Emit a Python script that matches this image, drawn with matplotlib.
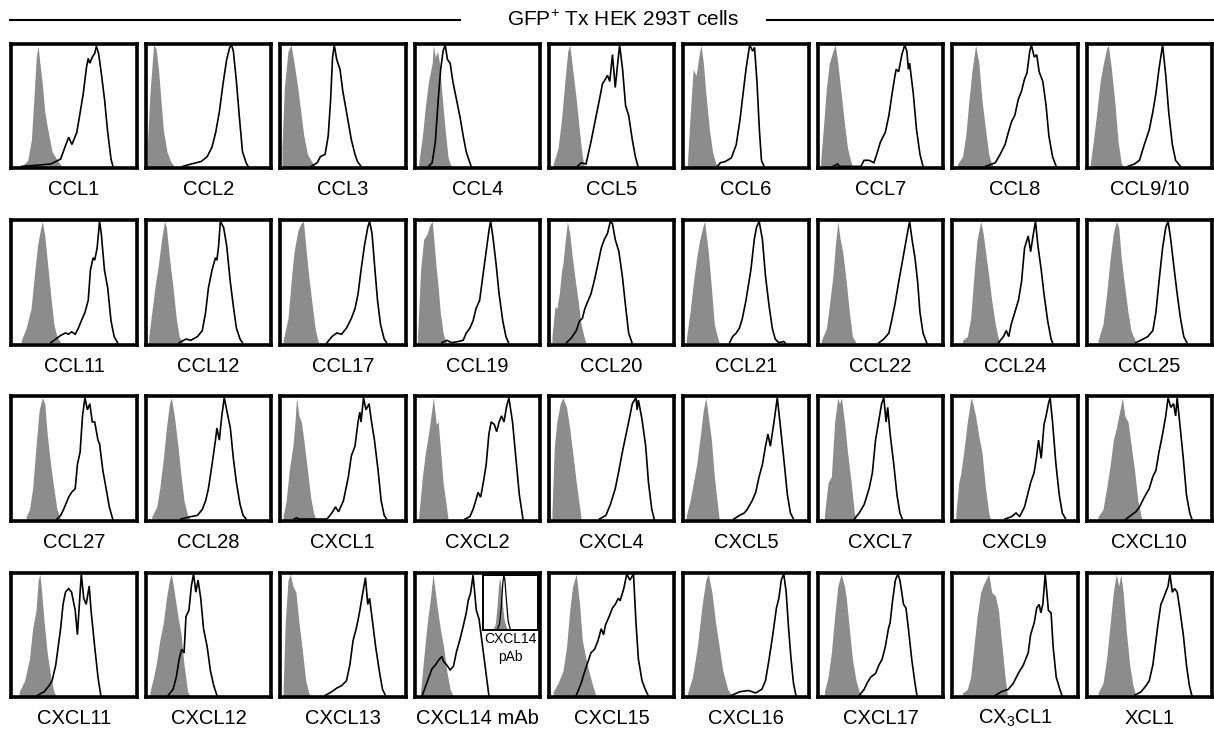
import matplotlib
matplotlib.use("Agg")
import matplotlib.pyplot as plt
from matplotlib.lines import Line2D

plt.rcParams['font.family'] = ['Liberation Sans', 'DejaVu Sans']
plt.rcParams['mathtext.fontset'] = 'custom'
plt.rcParams['mathtext.rm'] = 'Liberation Sans'
plt.rcParams['mathtext.it'] = 'Liberation Sans:italic'

# x = fluorescence (% of axis), y = % of max
row1_labels = ["CCL1", "CCL2", "CCL3", "CCL4", "CCL5", "CCL6", "CCL7", "CCL8", "CCL9/10"]
row1_iso = [
    [(7,0),(12,5),(15,22),(17,55),(19,90),(20.5,99),(22,85),(24,68),(26,45),(28,33),(32,12),(37,4),(40,0)],
    [(0,20),(2,60),(5,100),(7,97),(9,80),(11,55),(13,30),(16,12),(19,4),(22,0)],
    [(0,15),(2,65),(5,95),(7.5,100),(10,85),(13,65),(15.5,45),(18,25),(21,10),(25,3),(27.6,0)],
    [(2,3),(5,25),(7.5,50),(10,70),(13,85),(14,100),(15.6,90),(17.5,95),(19,85),(21,60),(23.7,30),(26,8),(27.8,2),(29,0)],
    [(2,2),(6,15),(9,40),(11.6,70),(14,95),(15.6,100),(18,80),(21,55),(23.7,28),(26,8),(27.5,0)],
    [(2,5),(4,40),(6.6,80),(9,75),(12,95),(13,100),(15,85),(17,60),(20,30),(22.5,12),(25,3),(26.5,0)],
    [(1,5),(3,30),(5.7,65),(8,85),(11,95),(13,100),(15,85),(17.8,60),(20.5,35),(23,15),(26,3),(27,0)],
    [(3,2),(7,8),(9.7,25),(12.4,55),(15,80),(17.8,100),(20.5,85),(23,55),(26,30),(28.6,10),(31,2),(32.6,0)],
    [(1.6,2),(4,20),(7,45),(9.7,70),(12.4,85),(15,97),(16.4,100),(19,80),(22,50),(24.5,20),(27,3),(28.6,0)],
]
row1_stain = [
    [(7,0),(20,1),(31,2),(39,6),(43,17),(45.6,24),(48.3,18),(52.3,28),(55,44),(57.6,60),(60.3,82),(61.7,89),(63,85),(65,90),(67,93),(68.4,99),(70.2,93),(72.4,77),(75.1,55),(77.7,28),(80.4,6),(82,0)],
    [(29,0),(36,2),(44,4),(49,8),(53,16),(56,28),(59,45),(62,68),(65,88),(67.5,98),(69,100),(70.5,95),(73,70),(75.5,40),(78,12),(81,3),(82.6,0)],
    [(24,0),(29,3),(31.6,8),(35.5,10),(38,25),(40,55),(41.6,90),(43,100),(45,88),(47.7,80),(50,62),(53,45),(57,22),(60,10),(62,4),(65,0)],
    [(10,0),(13,3),(15.6,20),(18,55),(20,80),(22,95),(23.7,100),(25.6,88),(27.8,85),(30,70),(33,55),(36,40),(38.5,25),(41,12),(44,3),(45,0)],
    [(22,0),(25,3),(29,2),(33,20),(37,40),(40,55),(42.5,68),(45,72),(46.6,75),(48.5,70),(50.7,92),(53,65),(55,85),(56.6,100),(59,80),(61.5,50),(64,42),(67,22),(69.5,8),(71.7,0)],
    [(26.5,0),(29,3),(33,4),(38,7),(42,18),(45,38),(47.6,60),(50,80),(53,100),(55.5,95),(57,98),(59,70),(61,30),(62.7,5),(64.8,0)],
    [(11,0),(15,2),(16,0),(34,0),(36.6,5),(40.7,5),(44.7,3),(47,10),(50,20),(54,28),(57,42),(59.6,60),(62,75),(63,80),(65,78),(67.6,92),(70,100),(71.7,95),(73,80),(74,85),(77,60),(79.7,30),(82.5,10),(85,0)],
    [(26,0),(34,3),(38,10),(42,18),(44.7,28),(47.4,37),(50,42),(52.8,55),(55.5,62),(58,72),(60,77),(62.3,95),(63.6,100),(66,90),(68,92),(70,78),(73,70),(75.7,50),(78,25),(81,8),(84,0)],
    [(32.6,0),(38,2),(42,5),(46,18),(50,30),(53,45),(55.5,60),(58,80),(61,100),(63.6,75),(66,45),(69,18),(71.7,5),(75.7,0)],
]

row2_labels = ["CCL11", "CCL12", "CCL17", "CCL19", "CCL20", "CCL21", "CCL22", "CCL24", "CCL25"]
row2_iso = [
    [(6.7,2),(10.7,12),(14.7,28),(17.4,55),(20,80),(22.8,95),(24,100),(26,88),(28,68),(30.8,40),(33.5,15),(36,5),(39,0)],
    [(1,5),(3.5,25),(6,45),(9,65),(11.5,85),(14,100),(15.5,95),(18,70),(21,45),(23.6,20),(26,5),(29,0)],
    [(1,2),(5,20),(7.5,50),(10,75),(13,92),(15.5,98),(17.7,100),(19.5,80),(22,55),(25,30),(27.6,10),(30,0)],
    [(1,5),(3.5,60),(6,85),(9,90),(11,97),(13,100),(14,90),(16,65),(18,45),(19.7,25),(22,8),(23.7,2),(25,0)],
    [(1,5),(3.5,30),(5,28),(7,40),(9,60),(10,65),(12,85),(13.7,100),(15.6,90),(17.8,70),(19.7,55),(22.4,35),(25,15),(27.8,3),(29,0)],
    [(1,3),(4,25),(6.8,50),(9.5,70),(12,85),(15,97),(16,100),(19,75),(21.6,45),(24,15),(27,3),(28,0)],
    [(1.6,2),(5.7,12),(8,30),(11,55),(13,80),(15,100),(17,85),(19,75),(22,50),(24.5,25),(27,5),(30,0)],
    [(7,2),(11,5),(13.7,20),(16.4,55),(19,85),(22,100),(24,90),(26,75),(28.6,55),(31,35),(34,15),(36.6,3),(38,0)],
    [(8,2),(12,15),(15,40),(18,70),(20.5,90),(23,100),(25,95),(27,70),(30,45),(32.6,25),(35,10),(38,3),(39,0)],
]
row2_stain = [
    [(31,0),(35,3),(39,6),(43,8),(45.6,7),(48,9),(51,7),(53.6,12),(56,18),(59,25),(61.7,35),(63.5,60),(65.7,70),(67,68),(69,78),(71,100),(72.4,90),(75,60),(77.7,45),(80.4,18),(83,5),(85.8,0)],
    [(26,0),(31.6,3),(35.6,2),(41,5),(45,10),(47.7,25),(50,45),(53,60),(55.8,70),(57,68),(58.4,80),(59.8,100),(62.5,95),(65,80),(68,50),(70.5,30),(73,12),(76,3),(78,0)],
    [(37,0),(41,5),(45,8),(49,7),(53,12),(57,20),(60,28),(62.5,40),(65,60),(67.8,80),(70.5,95),(72,100),(74,90),(76,65),(78.5,35),(81,15),(84,3),(86,0)],
    [(21,0),(25,2),(29,0),(34.5,1),(38.5,2),(41,8),(44,12),(46.6,18),(49,28),(52,35),(54,50),(56,65),(58,80),(59.6,92),(61,100),(62.8,88),(65.5,65),(68,40),(71,18),(73.6,5),(75.7,0)],
    [(13,0),(17,4),(21,10),(23.7,18),(26,20),(28,28),(30,33),(33,40),(36,52),(38.8,65),(41.5,78),(44,85),(46.6,90),(49,100),(50.7,98),(53,85),(56,75),(58.8,55),(61.5,30),(64,8),(66.7,0)],
    [(36.5,0),(39,5),(42,8),(44.6,12),(47,20),(50,35),(52.7,52),(54,60),(56.8,85),(58.6,95),(60.8,100),(63.5,85),(66,55),(69,30),(71.6,12),(74,3),(77,0),(81,1),(82,0)],
    [(48.8,0),(52.8,3),(57,8),(59.6,20),(62,32),(65,50),(67.7,65),(70,78),(72.5,92),(74,100),(76,85),(78.4,70),(80.6,50),(82.5,25),(85,8),(88,0)],
    [(36.6,0),(40.7,5),(43,10),(45,5),(47,15),(50,25),(53,35),(55.5,50),(58,78),(61,88),(63,75),(65,88),(67,100),(69,80),(71.7,60),(74,40),(77,18),(79.8,3),(81,0)],
    [(39,0),(43,2),(48.8,5),(53,10),(55.5,25),(58,50),(61,78),(63.6,95),(65.5,100),(67.7,85),(70,65),(73,40),(75.7,20),(78.4,5),(81,0)],
]

row3_labels = ["CCL27", "CCL28", "CXCL1", "CXCL2", "CXCL4", "CXCL5", "CXCL7", "CXCL9", "CXCL10"]
row3_iso = [
    [(10.7,2),(13.4,8),(16,25),(18.8,60),(21.4,90),(24,100),(26,95),(28,70),(30.8,45),(33.5,25),(36,8),(39,0)],
    [(3.5,2),(7.5,10),(10,25),(13,50),(15.5,75),(18,95),(19.6,100),(22,85),(25,60),(27.6,35),(30,15),(33,3),(34.8,0)],
    [(1,3),(3.5,15),(6,40),(9,60),(10.7,80),(12,100),(14,85),(16,80),(18,65),(21,40),(23.6,18),(26,5),(27.6,0)],
    [(2,3),(5,35),(7.5,55),(10,70),(12,85),(14,100),(16.4,78),(18,80),(20,55),(22,30),(25,8),(26,0)],
    [(1,5),(3,60),(5,80),(7.8,95),(10,100),(13,92),(15.6,75),(18,55),(21,30),(24,8),(25,0)],
    [(1,3),(4,15),(6.8,30),(9.5,45),(12,65),(15,90),(17,100),(19,85),(21.6,65),(24,35),(27,8),(28,0)],
    [(4,3),(7,30),(9.7,35),(12.4,80),(15,100),(16.4,95),(18,100),(20.5,80),(23,55),(26,30),(28.6,5),(30,0)],
    [(1.6,5),(4,30),(5.7,38),(8,55),(11,80),(14,100),(15.6,95),(17.8,85),(20.5,68),(23,55),(26,25),(28.6,5),(30,0)],
    [(8,2),(12,8),(15,25),(18,45),(20.5,65),(23,75),(26,90),(28,100),(30,85),(32.6,80),(35,62),(38,40),(40.7,15),(43.4,2),(44,0)],
]
row3_stain = [
    [(36,0),(39,3),(41.5,8),(45.6,18),(48,22),(51,25),(52.8,45),(55,55),(57,85),(59,100),(61,90),(63,95),(65,80),(67,80),(69.7,65),(71,62),(73.7,40),(76.4,25),(79,10),(81.8,0)],
    [(27.6,0),(35.6,2),(41,3),(45,8),(47.7,15),(50,25),(53,45),(55.8,65),(57,75),(59,65),(61,85),(63,100),(65,90),(68,75),(70.5,50),(73,30),(76,12),(78.5,3),(81,0)],
    [(10,0),(12,1),(14,0),(37,0),(41,5),(44,10),(46.5,6),(50.5,15),(54.6,35),(57,52),(60,60),(62.5,80),(64,88),(65,80),(67,100),(69,90),(71.6,95),(73.6,80),(76,65),(79,40),(81.5,15),(84,3),(86,0)],
    [(40,0),(44,2),(46.6,8),(48.8,15),(50.7,22),(52.8,18),(55,30),(57.4,45),(59.6,70),(61.5,80),(64,78),(66,72),(68,80),(70,85),(72,80),(74,92),(76,100),(79,80),(81.8,50),(84.6,20),(87.6,0)],
    [(40,0),(45.3,3),(49,12),(53,25),(56,40),(58.8,55),(61.5,68),(64,80),(67,95),(70,100),(71,90),(72,98),(75,82),(78,60),(80.3,30),(83,8),(85,0)],
    [(40,0),(44.6,3),(48.6,5),(51,8),(55,15),(58,22),(60.8,35),(63.5,45),(66,60),(68,70),(70,60),(73,80),(75.7,100),(78.4,75),(81,50),(84,20),(86.5,5),(89,0)],
    [(28.6,0),(32.6,5),(36.7,12),(40.7,25),(43.4,38),(46,65),(48.5,80),(51,95),(52.8,100),(54.7,80),(56,92),(58,70),(61,45),(63.6,20),(66,5),(68,0)],
    [(42,0),(47.4,2),(51,5),(54,2),(58,10),(61,22),(63,30),(65.8,38),(67.7,50),(69.5,65),(71.7,50),(74,78),(75.7,85),(77.6,95),(79,100),(81,80),(83.8,45),(86.5,20),(89,5),(91.8,0)],
    [(31,0),(35,3),(39,6),(42,10),(46,18),(50,25),(53,35),(55.5,40),(58,55),(61,70),(63.6,85),(65.5,100),(67.7,92),(70,95),(71.7,85),(73,100),(75,80),(78,50),(80.6,20),(83.3,5),(85,0)],
]

row4_labels = ["CXCL11", "CXCL12", "CXCL13", "CXCL14 mAb", "CXCL15", "CXCL16", "CXCL17",
               r"CX$_{\mathrm{3}}$CL1", "XCL1"]
row4_iso = [
    [(5,3),(9.4,12),(13.4,30),(16,55),(18.8,70),(20.6,95),(22,100),(23,90),(25.5,60),(28,35),(31,15),(33.5,3),(35,0)],
    [(2,3),(5,15),(7.5,28),(10,45),(13,60),(15.5,80),(18,95),(19.6,100),(22,85),(25,65),(27.6,50),(30,25),(33,3),(34.8,0)],
    [(1,5),(2.7,60),(5,95),(7,100),(9,90),(11.5,85),(14,60),(17,35),(19.6,12),(22,2),(23.6,0)],
    [(3.5,3),(6,30),(9,60),(11.6,80),(13.7,100),(15.6,85),(17.5,70),(19.7,55),(22.4,40),(25,20),(27.8,5),(30,0)],
    [(2,3),(6,10),(10,20),(13,40),(15.6,70),(18,90),(21,100),(23.7,75),(26,45),(29,30),(31.8,18),(34.5,8),(37,0)],
    [(2,2),(6,15),(10,40),(14,75),(17,95),(19,100),(22,85),(25,60),(28,40),(31,20),(35,5),(38,0)],
    [(4,3),(7,15),(9.7,35),(12.4,65),(15,90),(17.8,100),(20.5,90),(22,80),(24.5,55),(27,30),(30,12),(32.6,3),(35,0)],
    [(7,2),(11,5),(13.7,15),(16.4,40),(19,65),(22,85),(24.5,92),(28.6,100),(31,85),(34,82),(36.6,70),(39,45),(42,15),(44,0)],
    [(8,2),(12,10),(15,30),(18,60),(20.5,85),(23,100),(25,90),(26.7,100),(28.6,85),(31,55),(34,25),(36.7,8),(39,0)],
]
row4_stain = [
    [(20,0),(25.5,3),(29.5,8),(32,12),(35,25),(37,40),(39,55),(41,75),(43,85),(45.6,88),(48,85),(51,70),(52.8,50),(54.4,75),(56,100),(58,80),(60,75),(62.5,90),(64,70),(67,40),(69.7,15),(72,0)],
    [(17,0),(21,5),(23.6,15),(26,30),(28,38),(30,35),(31.6,65),(34,70),(36,90),(37.8,100),(39.7,85),(41.5,95),(43.7,80),(46,55),(49,40),(51.7,20),(54.4,8),(57,0)],
    [(35.6,0),(41,3),(45,6),(49,8),(53,12),(55.8,25),(58.4,45),(61,55),(62.5,62),(64,70),(66.5,85),(68.6,97),(70.5,75),(72,80),(74.5,60),(77,40),(80,20),(82.6,5),(85,0)],
    [(4.9,0),(8.9,11),(12.9,22),(15.6,25),(18.3,29),(21,32),(22.4,28),(25,25),(27.8,21),(30.5,24),(33,36),(35.8,46),(38.5,57),(41,68),(42.6,78),(44.5,84),(46.6,99),(49.3,70),(51.5,63),(59.6,0)],
    [(21,0),(25,10),(28,20),(30.7,28),(33,35),(36,38),(38.8,45),(41.5,55),(43.4,50),(45,58),(48,65),(50.7,72),(53,75),(55.5,80),(57,78),(60,88),(62.5,100),(65,95),(68,100),(70,60),(72,30),(75,12),(77.6,5),(80,0)],
    [(38,0),(45,3),(52,4),(58,2),(63,5),(66,12),(69,30),(72,50),(75,72),(77,80),(79,95),(81,100),(83,85),(85,55),(87,30),(89,10),(91,0)],
    [(32.6,0),(36.7,5),(39,10),(42,15),(46,18),(48.8,25),(51.5,30),(54,40),(56.6,55),(58,60),(60,78),(62.3,95),(64.4,100),(66,95),(69,75),(71,72),(73,55),(75.7,30),(78.4,10),(80,0)],
    [(34,0),(39,3),(44.7,5),(48.8,10),(52.8,18),(57,25),(61,35),(63,50),(66,60),(68,72),(70,75),(71.4,68),(73,75),(75,100),(77.6,70),(79.8,68),(81.5,40),(84,15),(87,5),(88.7,0)],
    [(38,0),(43.4,3),(47.4,8),(50,12),(53,25),(55.5,45),(57.4,60),(59.6,75),(61.7,80),(63.6,85),(65.5,90),(67,100),(69,85),(70.9,88),(73,85),(75,72),(78,50),(80.6,25),(83,8),(85,0)],
]

# CXCL14 pAb inset
inset_iso = [(18,0),(22,10),(25,40),(28,80),(30,95),(32,85),(35,50),(38,20),(42,5),(45,0)]
inset_stain = [(26,0),(30,10),(33,40),(36,85),(38,100),(40,90),(43,50),(46,15),(50,0)]

title = r"GFP$^{\mathrm{+}}$ Tx HEK 293T cells"

GRAY = "#8c8c8c"
W, H = 1214, 732
fig = plt.figure(figsize=(W / 100, H / 100), dpi=100)

rows = [
    (row1_labels, row1_iso, row1_stain),
    (row2_labels, row2_iso, row2_stain),
    (row3_labels, row3_iso, row3_stain),
    (row4_labels, row4_iso, row4_stain),
]


def draw_hist(ax, iso, stain, lw=1.2):
    ix = [p[0] for p in iso]
    iy = [p[1] for p in iso]
    sx = [p[0] for p in stain]
    sy = [p[1] for p in stain]
    ax.fill_between(ix, iy, 0, color=GRAY, lw=0)
    ax.plot(sx, sy, color="black", lw=lw, solid_joinstyle="miter")
    ax.set_xlim(-1.5, 101.5)
    ax.set_ylim(-1.5, 101)
    ax.set_xticks([])
    ax.set_yticks([])


spine_px = 3.6
ax_h = 128 - spine_px
for r, (labels, isos, stains) in enumerate(rows):
    top = 42 + 176.33 * r
    for c in range(9):
        left = 9.5 + 134.4 * c
        l = (left + spine_px / 2) / W
        b = 1 - (top + 128 - spine_px / 2) / H
        w = (129 - spine_px) / W
        h = ax_h / H
        ax = fig.add_axes([l, b, w, h])
        draw_hist(ax, isos[c], stains[c])
        for s in ax.spines.values():
            s.set_linewidth(2.6)
        # label baseline ~27 px under the box
        ax.text(0.5, -27 / ax_h, labels[c], transform=ax.transAxes,
                ha="center", va="baseline", fontsize=14.5)
        if labels[c] == "CXCL14 mAb":
            ins = ax.inset_axes([0.544, 0.54, 0.44, 0.445])
            draw_hist(ins, inset_iso, inset_stain, lw=0.9)
            for s in ins.spines.values():
                s.set_linewidth(1.4)
            ax.text(0.762, 0.436, "CXCL14", transform=ax.transAxes,
                    ha="center", va="baseline", fontsize=10)
            ax.text(0.762, 0.29, "pAb", transform=ax.transAxes,
                    ha="center", va="baseline", fontsize=10)

# title with rules either side
ty = 1 - 20 / H
fig.add_artist(Line2D([10 / W, 460 / W], [ty, ty], color="black", lw=1.5))
fig.add_artist(Line2D([767 / W, 1214 / W], [ty, ty], color="black", lw=1.5))
fig.text(623 / W, 1 - 26.5 / H, title, ha="center", va="baseline", fontsize=15)

fig.savefig("out.png", dpi=100)
